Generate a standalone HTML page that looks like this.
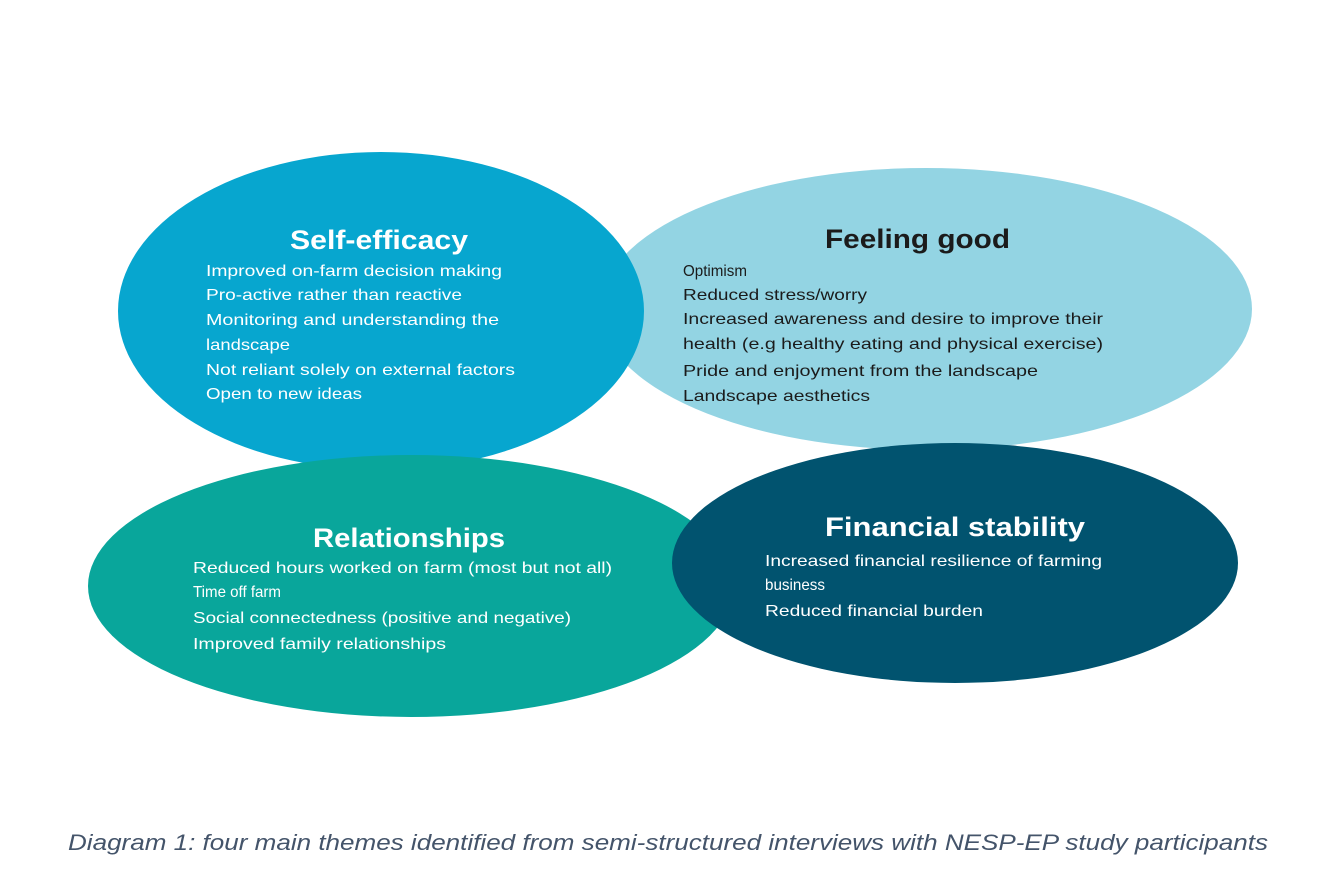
<!DOCTYPE html>
<html><head><meta charset="utf-8"><style>html,body{margin:0;padding:0;background:#fff}svg{display:block}</style></head>
<body>
<svg width="1332" height="896" viewBox="0 0 1332 896" xmlns="http://www.w3.org/2000/svg" font-family="Liberation Sans, sans-serif">
<rect width="1332" height="896" fill="#fff"/>
<ellipse cx="926" cy="309" rx="326" ry="141" fill="#93d4e3"/>
<ellipse cx="381" cy="311" rx="263" ry="159" fill="#07a6cf"/>
<ellipse cx="411" cy="586" rx="323" ry="131" fill="#09a69b"/>
<ellipse cx="955" cy="563" rx="283" ry="120" fill="#01536f"/>

<g fill="#fff">
<text x="290" y="249" font-size="27" font-weight="bold" textLength="178" lengthAdjust="spacingAndGlyphs">Self-efficacy</text>
<g font-size="16" lengthAdjust="spacingAndGlyphs">
<text x="206" y="276" textLength="296" lengthAdjust="spacingAndGlyphs">Improved on-farm decision making</text>
<text x="206" y="300" textLength="256" lengthAdjust="spacingAndGlyphs">Pro-active rather than reactive</text>
<text x="206" y="325" textLength="293" lengthAdjust="spacingAndGlyphs">Monitoring and understanding the</text>
<text x="206" y="350" textLength="84" lengthAdjust="spacingAndGlyphs">landscape</text>
<text x="206" y="375" textLength="309" lengthAdjust="spacingAndGlyphs">Not reliant solely on external factors</text>
<text x="206" y="399" textLength="156" lengthAdjust="spacingAndGlyphs">Open to new ideas</text>
</g>
</g>

<g fill="#1b1b1b">
<text x="825" y="248" font-size="27" font-weight="bold" textLength="185" lengthAdjust="spacingAndGlyphs">Feeling good</text>
<g font-size="16">
<text x="683" y="276" textLength="64" lengthAdjust="spacingAndGlyphs">Optimism</text>
<text x="683" y="300" textLength="184" lengthAdjust="spacingAndGlyphs">Reduced stress/worry</text>
<text x="683" y="324" textLength="420" lengthAdjust="spacingAndGlyphs">Increased awareness and desire to improve their</text>
<text x="683" y="349" textLength="420" lengthAdjust="spacingAndGlyphs">health (e.g healthy eating and physical exercise)</text>
<text x="683" y="376" textLength="355" lengthAdjust="spacingAndGlyphs">Pride and enjoyment from the landscape</text>
<text x="683" y="401" textLength="187" lengthAdjust="spacingAndGlyphs">Landscape aesthetics</text>
</g>
</g>

<g fill="#fff">
<text x="313" y="547" font-size="27" font-weight="bold" textLength="192" lengthAdjust="spacingAndGlyphs">Relationships</text>
<g font-size="16">
<text x="193" y="573" textLength="419" lengthAdjust="spacingAndGlyphs">Reduced hours worked on farm (most but not all)</text>
<text x="193" y="597" textLength="88" lengthAdjust="spacingAndGlyphs">Time off farm</text>
<text x="193" y="623" textLength="378" lengthAdjust="spacingAndGlyphs">Social connectedness (positive and negative)</text>
<text x="193" y="649" textLength="253" lengthAdjust="spacingAndGlyphs">Improved family relationships</text>
</g>
</g>

<g fill="#fff">
<text x="825" y="536" font-size="27" font-weight="bold" textLength="260" lengthAdjust="spacingAndGlyphs">Financial stability</text>
<g font-size="16">
<text x="765" y="566" textLength="337" lengthAdjust="spacingAndGlyphs">Increased financial resilience of farming</text>
<text x="765" y="590" textLength="60" lengthAdjust="spacingAndGlyphs">business</text>
<text x="765" y="616" textLength="218" lengthAdjust="spacingAndGlyphs">Reduced financial burden</text>
</g>
</g>

<text x="68" y="850" font-size="22" font-style="italic" fill="#44546a" textLength="1200" lengthAdjust="spacingAndGlyphs">Diagram 1: four main themes identified from semi-structured interviews with NESP-EP study participants</text>
</svg>
</body></html>
